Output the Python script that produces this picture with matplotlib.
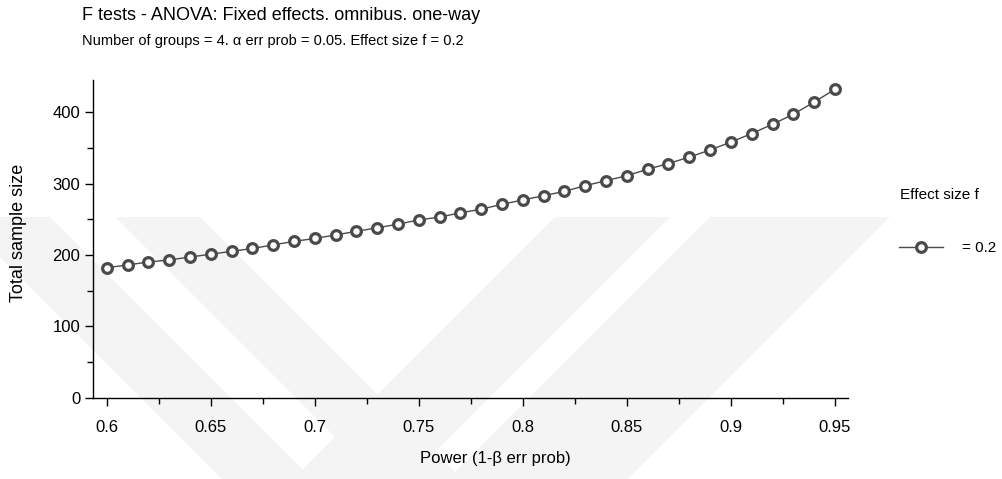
import numpy as np
import matplotlib.pyplot as plt
from matplotlib.patches import Polygon
from matplotlib.ticker import MultipleLocator

plt.rcParams['font.family'] = ['Liberation Sans', 'DejaVu Sans']

# Power (1-beta) and total sample size
power = [0.60, 0.61, 0.62, 0.63, 0.64, 0.65, 0.66, 0.67, 0.68, 0.69,
         0.70, 0.71, 0.72, 0.73, 0.74, 0.75, 0.76, 0.77, 0.78, 0.79,
         0.80, 0.81, 0.82, 0.83, 0.84, 0.85, 0.86, 0.87, 0.88, 0.89,
         0.90, 0.91, 0.92, 0.93, 0.94, 0.95]
total_n = [182, 186, 190, 193, 197, 201, 205, 209, 214, 219,
           223, 228, 233, 238, 243, 249, 253, 259, 264, 271,
           277, 283, 289, 297, 304, 311, 320, 328, 337, 347,
           358, 370, 383, 397, 414, 432]
x_ticks = [0.6, 0.65, 0.7, 0.75, 0.8, 0.85, 0.9, 0.95]
x_labels = ['0.6', '0.65', '0.7', '0.75', '0.8', '0.85', '0.9', '0.95']

col = '#4a4a4a'
W, H = 1003, 479

fig = plt.figure(figsize=(W / 100, H / 100), dpi=100)

# faint watermark bands in the background (pixel coords, y from top)
def band(x0, x1, slope):
    top, bot = 217, H
    d = (bot - top) * slope
    pts = [(x0, top), (x1, top), (x1 + d, bot), (x0 + d, bot)]
    return Polygon([(x / W, 1 - y / H) for x, y in pts], closed=True,
                   transform=fig.transFigure, fc='#f4f4f4', ec='none', zorder=-5)

for x0, x1, s in [(-40, 50, 1), (115, 200, 1), (555, 670, -1), (710, 890, -1)]:
    fig.patches.append(band(x0, x1, s))

ax = fig.add_axes([0.0927, 0.1697, 0.7528, 0.6633])
ax.patch.set_alpha(0)

ax.plot(power, total_n, color=col, lw=1, marker='o', ms=7, mfc='white',
        mec=col, mew=2.3, label='= 0.2')

ax.set_xlim(0.5934, 0.9563)
ax.set_ylim(0, 445)
ax.set_xticks(x_ticks)
ax.set_xticklabels(x_labels)
ax.xaxis.set_minor_locator(MultipleLocator(0.025))
ax.yaxis.set_major_locator(MultipleLocator(100))
ax.yaxis.set_minor_locator(MultipleLocator(50))
ax.tick_params(which='major', length=6, width=1, labelsize=12, colors='black')
ax.tick_params(which='minor', length=4.5, width=1)
ax.tick_params(axis='x', which='major', pad=10)
ax.tick_params(axis='y', which='major', pad=3)
for s in ['top', 'right']:
    ax.spines[s].set_visible(False)
for s in ['left', 'bottom']:
    ax.spines[s].set_linewidth(1)

fig.text(19 / W, 1 - 233 / H, 'Total sample size', fontsize=13, rotation=90,
         ha='center', va='center')
fig.text(495 / W, 1 - 458 / H, 'Power (1-β err prob)', fontsize=12,
         ha='center', va='center')

fig.text(82 / W, 1 - 16 / H, 'F tests - ANOVA: Fixed effects. omnibus. one-way',
         fontsize=13, ha='left', va='center')
fig.text(82 / W, 1 - 41 / H, 'Number of groups = 4. α err prob = 0.05. Effect size f = 0.2',
         fontsize=10.5, ha='left', va='center')

fig.text(900 / W, 1 - 195 / H, 'Effect size f', fontsize=11, ha='left', va='center')
ax.legend(loc='center left', bbox_to_anchor=(899 / W, 1 - 248 / H),
          bbox_transform=fig.transFigure, frameon=False, fontsize=11,
          handlelength=2.9, handletextpad=1.2, borderpad=0, borderaxespad=0)

fig.savefig('out.png', dpi=100)
